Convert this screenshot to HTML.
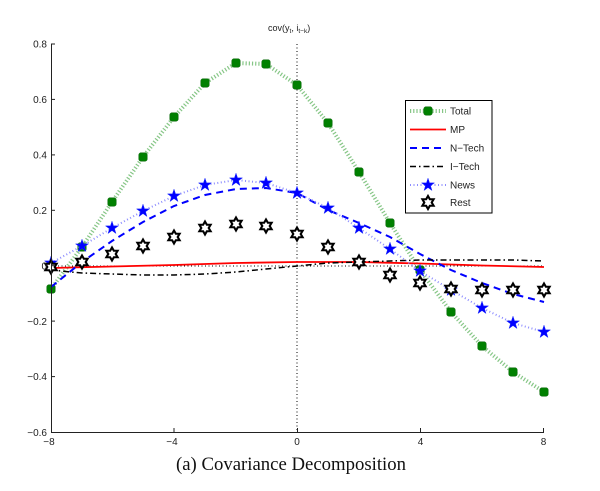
<!DOCTYPE html>
<html><head><meta charset="utf-8"><style>
html,body{margin:0;padding:0;background:#fff;}
svg{display:block;}
.s{font-family:"Liberation Sans",Arial,sans-serif;}
</style></head><body>
<svg width="600" height="491" viewBox="0 0 600 491" xmlns="http://www.w3.org/2000/svg">
<defs>
<g id="sq"><rect x="-4.2" y="-4.2" width="8.4" height="8.4" rx="2.2" fill="#008000" stroke="#0a6a0a" stroke-width="0.6"/></g>
<g id="st"><polygon points="0,-6.8 1.55,-2.1 6.47,-2.1 2.5,0.8 4,5.5 0,2.6 -4,5.5 -2.5,0.8 -6.47,-2.1 -1.55,-2.1" fill="#0000ff" stroke="#2030ff" stroke-width="0.5"/></g>
<g id="hx"><polygon points="0,-6.5 1.85,-3.25 5.6,-3.25 3.7,0 5.6,3.25 1.85,3.25 0,6.5 -1.85,3.25 -5.6,3.25 -3.7,0 -5.6,-3.25 -1.85,-3.25" fill="#fff" stroke="#000" stroke-width="2.1" stroke-linejoin="miter"/></g>
</defs>

<!-- title -->
<text class="s" x="268" y="31" font-size="9" fill="#222">cov(y<tspan font-size="6.5" dy="2">t</tspan><tspan dy="-2">, i</tspan><tspan font-size="6.5" dy="2">t−k</tspan><tspan dy="-2">)</tspan></text>

<!-- reference lines -->
<line x1="297" y1="44" x2="297" y2="432" stroke="#000" stroke-width="1" stroke-dasharray="1 2.5"/>
<line x1="51" y1="266" x2="544" y2="266" stroke="#000" stroke-width="1" stroke-dasharray="1 2.5"/>

<!-- Total -->
<polyline fill="none" stroke="#86c686" stroke-width="4" stroke-dasharray="1.2 2"
 points="51,289 82,247 112,202 143,157 174,117 205,83 236,63 266,64 297,85 328,123 359,172 390,223 420,270 451,312 482,346 513,372 544,392"/>
<g>
<use href="#sq" x="51" y="289"/><use href="#sq" x="82" y="247"/><use href="#sq" x="112" y="202"/><use href="#sq" x="143" y="157"/><use href="#sq" x="174" y="117"/><use href="#sq" x="205" y="83"/><use href="#sq" x="236" y="63"/><use href="#sq" x="266" y="64"/><use href="#sq" x="297" y="85"/><use href="#sq" x="328" y="123"/><use href="#sq" x="359" y="172"/><use href="#sq" x="390" y="223"/><use href="#sq" x="420" y="270"/><use href="#sq" x="451" y="312"/><use href="#sq" x="482" y="346"/><use href="#sq" x="513" y="372"/><use href="#sq" x="544" y="392"/>
</g>

<!-- MP -->
<polyline fill="none" stroke="#ff0000" stroke-width="1.8"
 points="51,268 112,266.5 174,265 236,263 297,262 359,262 420,263.5 482,265.5 544,267"/>

<!-- N-Tech -->
<polyline fill="none" stroke="#0000ff" stroke-width="2" stroke-dasharray="7 5"
 points="51,287 82,262 112,241 143,222 174,206 205,195 236,189 266,188 297,193 328,210 359,223 390,237 420,254 451,270 482,283 513,294 544,302"/>

<!-- I-Tech -->
<polyline fill="none" stroke="#000" stroke-width="1.5" stroke-dasharray="6 3 1.5 3"
 points="51,266 60,271 82,273 112,274 143,275 174,275 205,274 236,272 266,269 297,266 328,263 359,262 390,261 420,260 451,260 482,260 513,260 544,261"/>

<!-- News -->
<polyline fill="none" stroke="#8c8cff" stroke-width="2" stroke-dasharray="1 2.5"
 points="51,263 82,246 112,228 143,211 174,196 205,185 236,180 266,183 297,193 328,208 359,228 390,249 420,271 451,290 482,308 513,323 544,332"/>
<g>
<use href="#st" x="51" y="263"/><use href="#st" x="82" y="246"/><use href="#st" x="112" y="228"/><use href="#st" x="143" y="211"/><use href="#st" x="174" y="196"/><use href="#st" x="205" y="185"/><use href="#st" x="236" y="180"/><use href="#st" x="266" y="183"/><use href="#st" x="297" y="193"/><use href="#st" x="328" y="208"/><use href="#st" x="359" y="228"/><use href="#st" x="390" y="249"/><use href="#st" x="420" y="271"/><use href="#st" x="451" y="290"/><use href="#st" x="482" y="308"/><use href="#st" x="513" y="323"/><use href="#st" x="544" y="332"/>
</g>

<!-- Rest -->
<g>
<use href="#hx" x="51" y="267"/><use href="#hx" x="82" y="262"/><use href="#hx" x="112" y="254"/><use href="#hx" x="143" y="246"/><use href="#hx" x="174" y="237"/><use href="#hx" x="205" y="228"/><use href="#hx" x="236" y="224"/><use href="#hx" x="266" y="226"/><use href="#hx" x="297" y="234"/><use href="#hx" x="328" y="247"/><use href="#hx" x="359" y="262"/><use href="#hx" x="390" y="275"/><use href="#hx" x="420" y="283"/><use href="#hx" x="451" y="289"/><use href="#hx" x="482" y="290"/><use href="#hx" x="513" y="290"/><use href="#hx" x="544" y="290"/>
</g>

<!-- axes -->
<g stroke="#222" stroke-width="1" fill="none">
<line x1="51.5" y1="44" x2="51.5" y2="432.5"/>
<line x1="51" y1="432.5" x2="544" y2="432.5"/>
<line x1="51" y1="44" x2="55" y2="44"/>
<line x1="51" y1="99.4" x2="55" y2="99.4"/>
<line x1="51" y1="154.9" x2="55" y2="154.9"/>
<line x1="51" y1="210.3" x2="55" y2="210.3"/>
<line x1="51" y1="265.7" x2="55" y2="265.7"/>
<line x1="51" y1="321.1" x2="55" y2="321.1"/>
<line x1="51" y1="376.6" x2="55" y2="376.6"/>
<line x1="174" y1="432" x2="174" y2="428"/>
<line x1="297.5" y1="432" x2="297.5" y2="428"/>
<line x1="420.5" y1="432" x2="420.5" y2="428"/>
<line x1="543.5" y1="432" x2="543.5" y2="428"/>
</g>

<g class="s" font-size="10" fill="#222" text-anchor="end">
<text x="47" y="47.5">0.8</text>
<text x="47" y="103">0.6</text>
<text x="47" y="158.5">0.4</text>
<text x="47" y="214">0.2</text>
<text x="47" y="269.5">0</text>
<text x="47" y="325">−0.2</text>
<text x="47" y="380">−0.4</text>
<text x="47" y="436">−0.6</text>
</g>
<g class="s" font-size="10" fill="#222" text-anchor="middle">
<text x="49" y="445">−8</text>
<text x="172" y="445">−4</text>
<text x="297" y="445">0</text>
<text x="420.5" y="445">4</text>
<text x="543.5" y="445">8</text>
</g>

<!-- legend -->
<rect x="405.5" y="100.5" width="86.5" height="112.5" fill="#fff" stroke="#000" stroke-width="1"/>
<line x1="410" y1="111" x2="446" y2="111" stroke="#86c686" stroke-width="4" stroke-dasharray="1.2 2"/>
<use href="#sq" x="428" y="111"/>
<line x1="410" y1="129.5" x2="446" y2="129.5" stroke="#ff0000" stroke-width="1.8"/>
<line x1="410" y1="148" x2="446" y2="148" stroke="#0000ff" stroke-width="2" stroke-dasharray="7 5"/>
<line x1="410" y1="166.5" x2="446" y2="166.5" stroke="#000" stroke-width="1.5" stroke-dasharray="6 3 1.5 3"/>
<line x1="410" y1="185" x2="446" y2="185" stroke="#8c8cff" stroke-width="2" stroke-dasharray="1 2.5"/>
<use href="#st" x="428" y="185"/>
<use href="#hx" x="428" y="202.5"/>
<g class="s" font-size="10" fill="#222">
<text x="450" y="114.5">Total</text>
<text x="450" y="133">MP</text>
<text x="450" y="151.5">N−Tech</text>
<text x="450" y="170">I−Tech</text>
<text x="450" y="188.5">News</text>
<text x="450" y="206">Rest</text>
</g>

<!-- caption -->
<text x="291" y="470" style="font-family:'Liberation Serif','Times New Roman',serif;font-size:18.5px" fill="#111" text-anchor="middle" textLength="230" lengthAdjust="spacingAndGlyphs">(a) Covariance Decomposition</text>
</svg>
</body></html>
